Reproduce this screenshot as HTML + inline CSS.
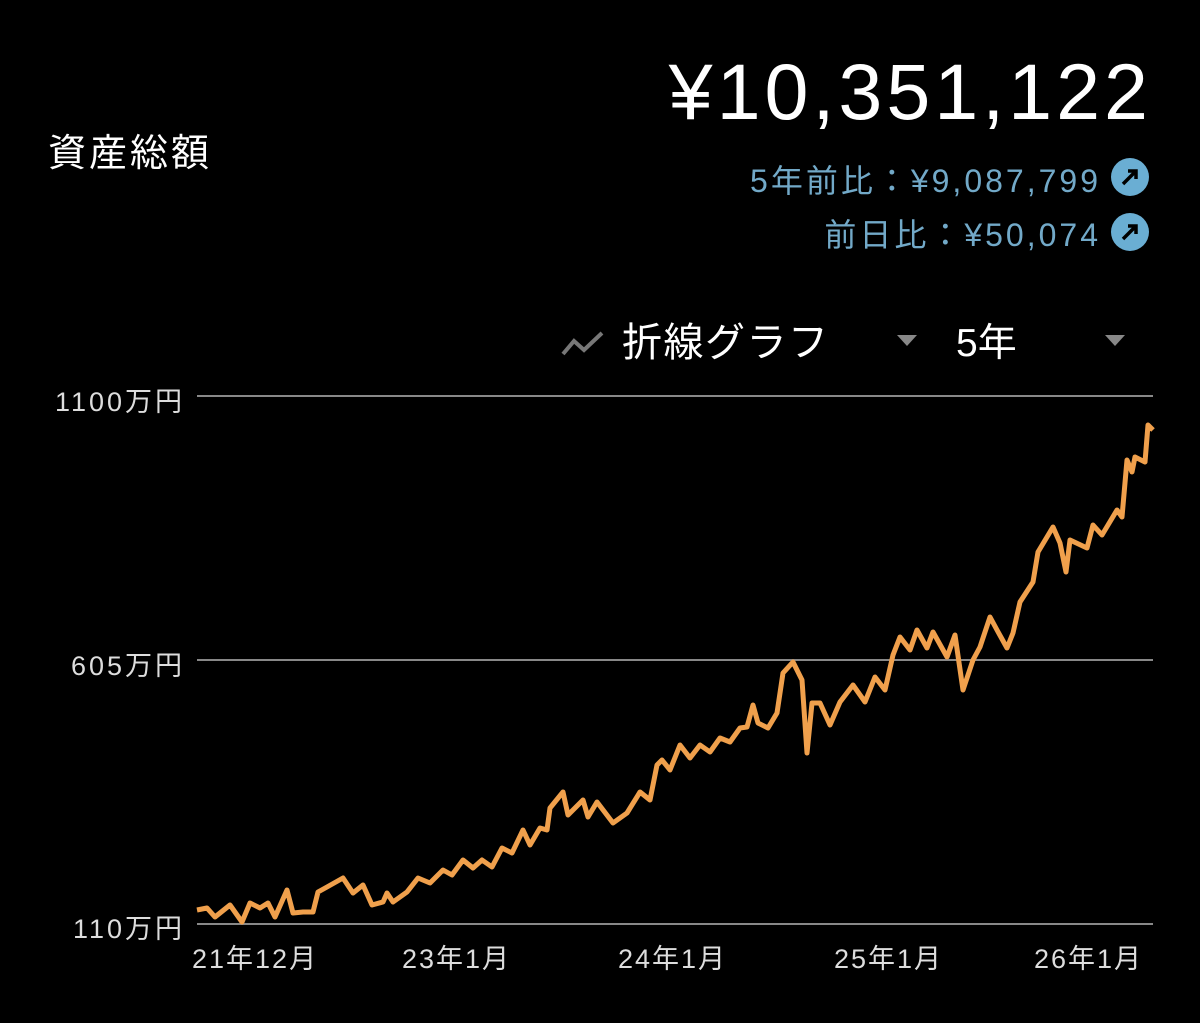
<!DOCTYPE html>
<html><head><meta charset="utf-8"><style>
html,body{margin:0;padding:0;background:#000;width:1200px;height:1023px;overflow:hidden}
body{font-family:"Liberation Sans","Noto Sans CJK JP",sans-serif;position:relative}
.t{position:absolute;white-space:nowrap}
.y{position:absolute;right:1015px;font-size:27px;color:#ddd;letter-spacing:3px;white-space:nowrap}
.x{position:absolute;top:937px;font-size:27px;color:#ddd;letter-spacing:2px;white-space:nowrap}
</style></head><body>
<div class="t" style="left:48px;top:122px;font-size:38px;color:#fff;letter-spacing:3px">資産総額</div>
<div class="t" style="right:48px;top:46px;font-size:79px;color:#fff;letter-spacing:4px">¥10,351,122</div>
<div class="t" style="right:99px;top:156px;font-size:32px;color:#72a9c8;letter-spacing:3px">5年前比：¥9,087,799</div>
<div class="t" style="right:99px;top:210px;font-size:32px;color:#72a9c8;letter-spacing:3px">前日比：¥50,074</div>
<svg style="position:absolute;left:0;top:0" width="1200" height="1023">
<circle cx="1130" cy="177" r="19" fill="#6aaed3"/><path d="M1123 184 L1136 171 M1128 171 L1136 171 L1136 179" stroke="#000" stroke-width="3.5" fill="none"/>
<circle cx="1130" cy="232" r="19" fill="#6aaed3"/><path d="M1123 239 L1136 226 M1128 226 L1136 226 L1136 234" stroke="#000" stroke-width="3.5" fill="none"/>
<path d="M563 354 L574 341 L584 350 L602 333" stroke="#777" stroke-width="4" fill="none"/>
<path d="M897 335 L917 335 L907 346Z" fill="#888"/>
<path d="M1105 335 L1125 335 L1115 346Z" fill="#888"/>
<line x1="197" y1="396" x2="1153" y2="396" stroke="#888" stroke-width="2"/>
<line x1="197" y1="660" x2="1153" y2="660" stroke="#888" stroke-width="2"/>
<line x1="197" y1="924" x2="1153" y2="924" stroke="#888" stroke-width="2"/>
<polyline fill="none" stroke="#f0a04c" stroke-width="5" stroke-linejoin="round" points="197,910 207,908 215,917 230,905 242,922 250,903 260,908 268,903 275,917 287,890 293,913 303,912 313,912 318,892 327,887 343,878 353,893 363,885 372,905 383,902 387,893 393,902 407,892 418,878 430,883 443,870 452,875 463,860 473,868 482,860 492,867 502,848 512,853 523,830 530,845 540,828 547,830 550,808 563,792 568,815 583,800 588,817 597,802 613,823 627,813 640,792 650,800 657,765 662,760 670,770 680,745 690,758 700,745 710,752 720,738 730,742 740,728 747,727 753,705 758,723 768,728 777,713 783,673 793,662 802,680 807,753 812,703 820,703 830,725 840,702 853,685 865,702 875,677 885,690 893,655 900,637 910,650 917,630 927,648 933,632 947,657 955,635 963,690 973,660 980,647 990,617 997,630 1007,648 1013,633 1020,602 1033,582 1038,552 1053,527 1060,543 1066,572 1070,540 1087,548 1093,525 1102,535 1117,510 1122,517 1127,460 1132,472 1135,457 1145,462 1148,425 1153,430"/>
</svg>
<div class="t" style="left:622px;top:310px;font-size:40px;color:#fff;letter-spacing:1.5px">折線グラフ</div>
<div class="t" style="left:956px;top:312px;font-size:39px;color:#fff">5年</div>
<div class="y" style="top:380px">1100万円</div>
<div class="y" style="top:644px">605万円</div>
<div class="y" style="top:907px">110万円</div>
<div class="x" style="left:192px">21年12月</div>
<div class="x" style="left:402px">23年1月</div>
<div class="x" style="left:618px">24年1月</div>
<div class="x" style="left:834px">25年1月</div>
<div class="x" style="left:1034px">26年1月</div>
</body></html>
